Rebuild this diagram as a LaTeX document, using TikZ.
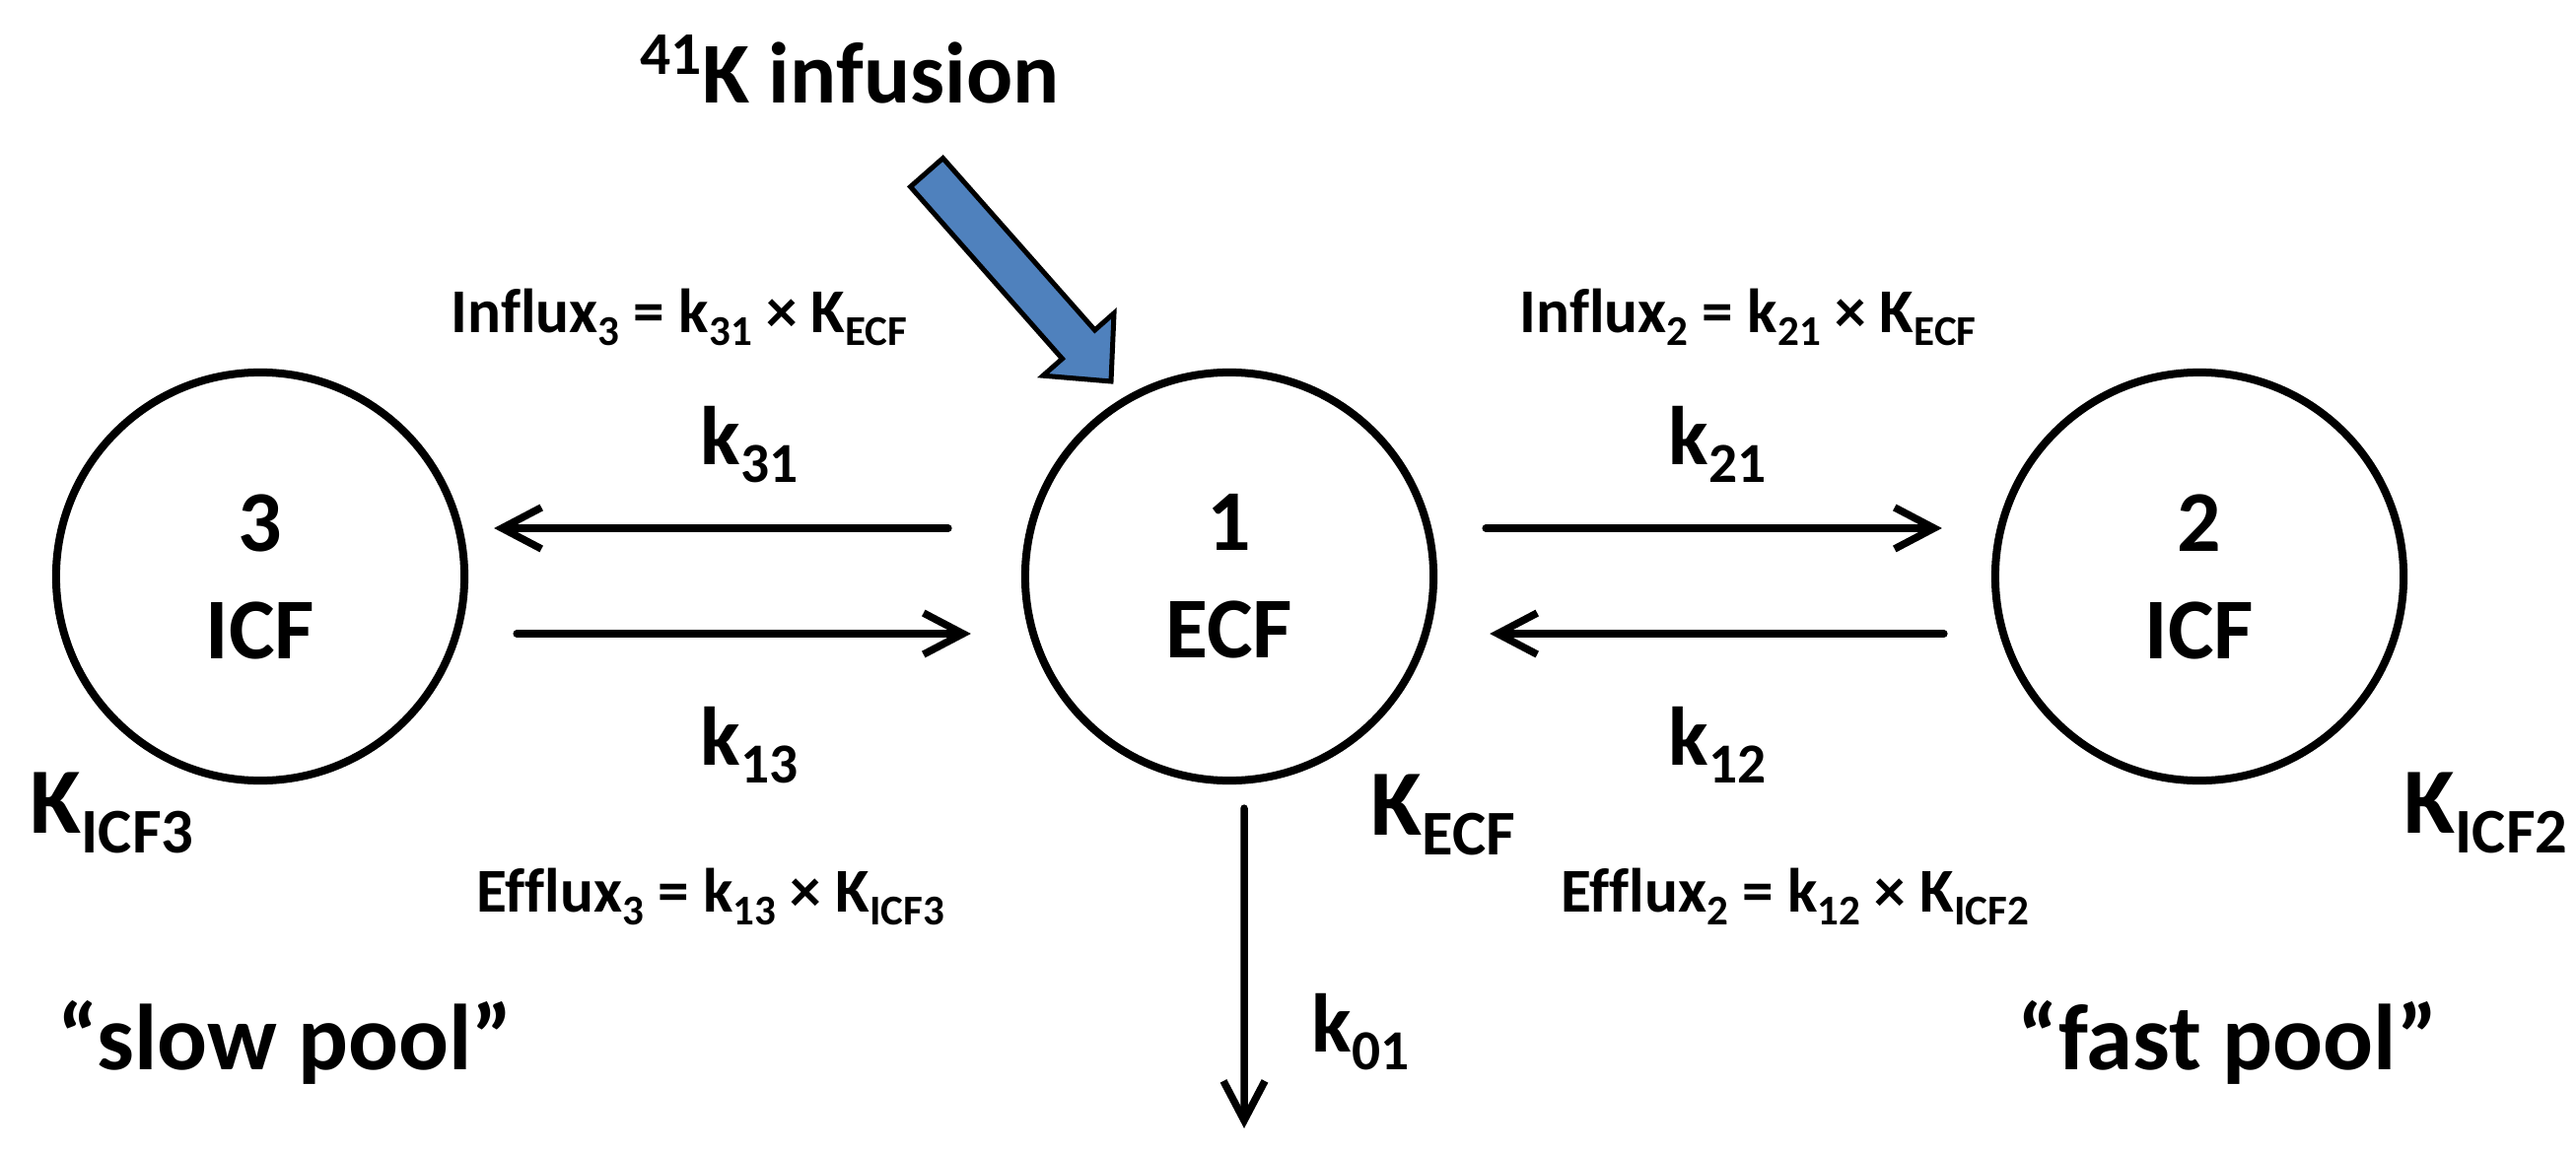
\documentclass[tikz,border=0pt]{standalone}
\usepackage{fontspec}
\setmainfont{Carlito}[Ligatures=NoCommon]
\usetikzlibrary{arrows.meta}
\definecolor{infblue}{RGB}{79,129,189}
\makeatletter
\newcommand\lo[1]{\raisebox{-0.22em}{\fontsize{\fpeval{0.68*\f@size}}{1}\selectfont #1}}
\newcommand\hi[1]{\raisebox{0.33em}{\fontsize{\fpeval{0.7*\f@size}}{1}\selectfont #1}}
\makeatother
\begin{document}
\begin{tikzpicture}[x=0.01cm,y=-0.01cm,
  pool/.style={circle, draw, line width=0.08cm, minimum size=4.14cm, inner sep=0pt, outer sep=0pt,
    align=center, font=\bfseries\fontsize{25}{31}\selectfont},
  rate/.style={anchor=base west, inner sep=0pt, font=\bfseries\fontsize{24}{28}\selectfont},
  amount/.style={anchor=base west, inner sep=0pt, font=\bfseries\fontsize{27}{32}\selectfont},
  eqn/.style={anchor=base west, inner sep=0pt, font=\bfseries\fontsize{18}{22}\selectfont},
  arr/.style={line width=0.075cm, line cap=round, line join=round,
    -{Straight Barb[length=0.4cm,width=0.42cm]}},
  infusion/.style={fill=infblue, draw=black, line width=0.05cm, line join=miter}
]
\useasboundingbox (0,0) rectangle (2613,1170);

% compartments
\node[pool] (c3) at (264,585) {3\\ICF};
\node[pool] (c1) at (1247,585) {1\\ECF};
\node[pool] (c2) at (2231,585) {2\\ICF};

% exchange arrows
\draw[arr] ([xshift=-0.78cm,yshift=0.49cm]c1.west) -- ([xshift=0.30cm,yshift=0.49cm]c3.east);
\draw[arr] ([xshift=0.53cm,yshift=-0.58cm]c3.east) -- ([xshift=-0.55cm,yshift=-0.58cm]c1.west);
\draw[arr] ([xshift=0.53cm,yshift=0.49cm]c1.east) -- ([xshift=-0.54cm,yshift=0.49cm]c2.west);
\draw[arr] ([xshift=-0.52cm,yshift=-0.58cm]c2.west) -- ([xshift=0.57cm,yshift=-0.58cm]c1.east);

% elimination
\coordinate (sink) at (1262,1145);
\draw[arr] ([xshift=0.15cm,yshift=-0.28cm]c1.south) -- (sink);

% infusion block arrow
\draw[infusion] (923.5,189.5) -- (956.5,160.5) -- (1110.5,335) -- (1130,317.8)
  -- (1127,387) -- (1058,381.2) -- (1077.5,364) -- cycle;

% labels
\node[amount, anchor=base, font=\bfseries\fontsize{25}{30}\selectfont] (inf) at (862,105) {\hi{41}K infusion};
\node[eqn] (influx3) at (457,337) {Influx\lo{3} = k\lo{31} × K\lo{ECF}};
\node[eqn] (influx2) at (1541,337) {Influx\lo{2} = k\lo{21} × K\lo{ECF}};
\node[eqn] (efflux3) at (483,925) {Efflux\lo{3} = k\lo{13} × K\lo{ICF3}};
\node[eqn] (efflux2) at (1583,925) {Efflux\lo{2} = k\lo{12} × K\lo{ICF2}};

\node[rate] (k31) at (710,471) {k\lo{31}};
\node[rate] (k13) at (710,776) {k\lo{13}};
\node[rate] (k21) at (1692,471) {k\lo{21}};
\node[rate] (k12) at (1692,776) {k\lo{12}};
\node[rate] (k01) at (1330,1067) {k\lo{01}};

\node[amount] (kicf3) at (30,845) {K\lo{ICF3}};
\node[amount] (kecf) at (1390,847) {K\lo{ECF}};
\node[amount] (kicf2) at (2438,845) {K\lo{ICF2}};

\node[amount] (slow) at (58,1085) {“slow pool”};
\node[amount] (fast) at (2046,1085) {“fast pool”};
\end{tikzpicture}
\end{document}
